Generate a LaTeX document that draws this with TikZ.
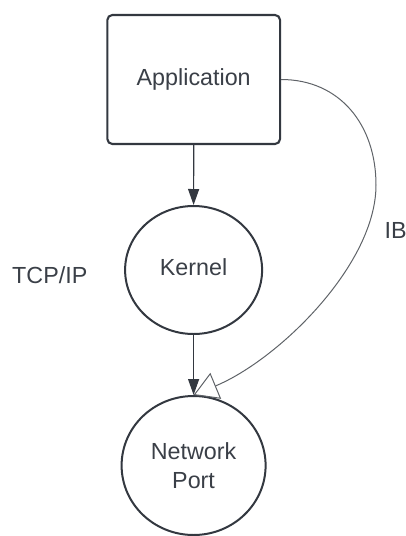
\documentclass[tikz,border=0pt]{standalone}
\usepackage{fontspec}
\setmainfont{Liberation Sans}
\usetikzlibrary{arrows.meta,shapes.geometric}
\definecolor{linecol}{HTML}{333840}
\definecolor{textcol}{HTML}{3A3F47}
\definecolor{curvecol}{HTML}{5F6368}
\tikzset{
  lbl/.style={text=textcol, font=\fontsize{23.3}{28.7}\selectfont},
  appbox/.style={lbl, draw=linecol, line width=2.1pt, rounded corners=5pt, minimum width=172.7pt, minimum height=129pt, inner sep=0pt, text height=16.7pt, text depth=4.9pt},
  oval/.style={lbl, ellipse, draw=linecol, line width=2pt, inner sep=0pt, align=center},
  arr/.style={draw=linecol, line width=1.2pt, -{Triangle[length=16pt,width=11pt]}},
  ibarr/.style={draw=curvecol, line width=1pt, -{Triangle[open,length=24pt,width=28pt]}},
}
\begin{document}
\begin{tikzpicture}[x=1pt,y=-1pt]
\useasboundingbox (0,0) rectangle (406,536);
\node[appbox] (app) at (193.7,79.5) {Application};
\node[oval, minimum width=137pt, minimum height=128pt, text height=16.7pt, text depth=4.9pt] (kern) at (193.6,270) {Kernel};
\node[oval, minimum width=144pt, minimum height=139pt] (net) at (193.6,465.5) {Network\\Port};
\node[lbl, anchor=base west, inner sep=0pt] (tcp) at (12,283) {TCP/IP};
\node[lbl, anchor=base west, inner sep=0pt] (ib) at (384.5,238.5) {IB};
\draw[arr] (app.south) -- (kern.north);
\draw[arr] (kern.south) -- (net.north);
\coordinate (ibmid) at (376,185);
\draw[ibarr] (app.east) .. controls (340,79.5) and (376,125) .. (ibmid)
  .. controls (376,265) and (278,360) .. (net.north);
\end{tikzpicture}
\end{document}
